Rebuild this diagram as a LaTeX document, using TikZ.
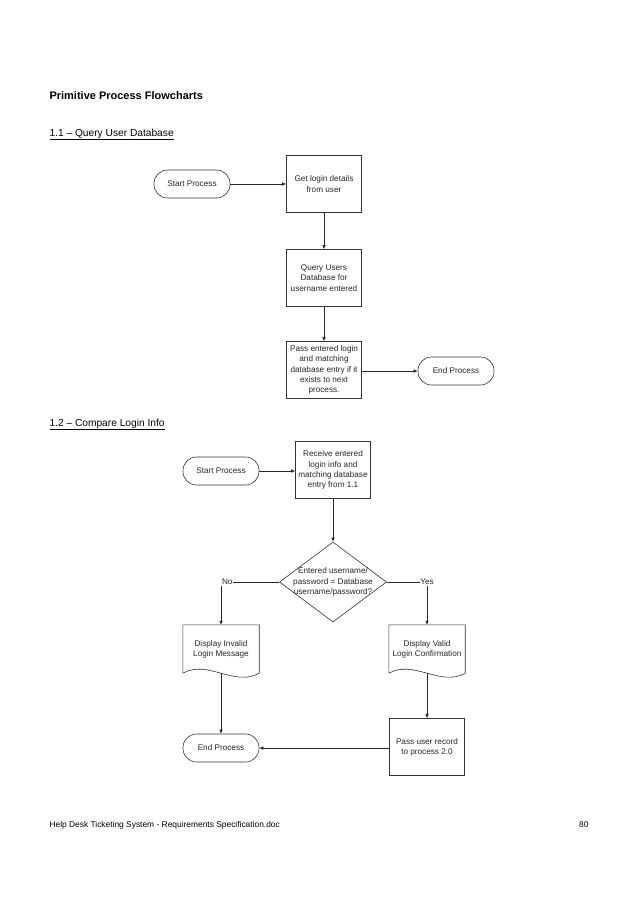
\documentclass[tikz,border=0pt]{standalone}
\usepackage{fontspec}
\setmainfont{Liberation Sans}
\usetikzlibrary{arrows.meta,shapes.geometric}
\begin{document}
\begin{tikzpicture}[x=1pt,y=-1pt,
  every node/.style={font=\fontsize{8.2}{10.2}\selectfont, text=black!85, align=center},
  proc/.style={draw=black!80, line width=0.6pt, minimum width=75pt, minimum height=57pt, inner sep=0pt},
  term/.style={draw=black!80, line width=0.6pt, minimum width=76pt, minimum height=28pt, rounded corners=13.5pt, inner sep=0pt},
  docbox/.style={minimum width=76pt, minimum height=48pt, inner sep=0pt},
  arr/.style={draw=black!85, line width=0.6pt, -{Latex[length=4pt,width=3.6pt]}},
  lbl/.style={fill=white, inner sep=0.8pt}
]
\useasboundingbox[fill=white] (0,0) rectangle (638,903);

% headings
\node[anchor=base west, font=\fontsize{11}{13}\selectfont\bfseries, text=black] (title) at (46,99) {Primitive Process Flowcharts};
\node[anchor=base west, font=\fontsize{10.2}{12}\selectfont, text=black] (h11) at (46,136) {\underline{1.1 -- Query User Database}};
\node[anchor=base west, font=\fontsize{10.2}{12}\selectfont, text=black] (h12) at (46,426) {\underline{1.2 -- Compare Login Info}};

% flowchart 1.1
\node[term] (s1) at (192,184) {Start Process};
\node[proc] (get) at (324,184) {Get login details\\from user};
\node[proc] (query) at (324,278) {Query Users\\Database for\\username entered};
\node[proc] (pass) at (324,370) {Pass entered login\\and matching\\database entry if it\\exists to next\\process.};
\node[term] (e1) at (456,371) {End Process};
\draw[arr] (s1) -- (get);
\draw[arr] (get) -- (query);
\draw[arr] (query) -- (pass);
\draw[arr] (pass.east |- e1) -- (e1);

% flowchart 1.2
\node[term] (s2) at (221,471) {Start Process};
\node[proc] (recv) at (333,470) {Receive entered\\login info and\\matching database\\entry from 1.1};
\node[draw=black!80, line width=0.6pt, diamond, minimum width=107pt, minimum height=80pt, inner sep=0pt] (dia) at (333,582) {};
\node (diatext) at (333,582) {Entered username/\\password = Database\\username/password?};
\node[docbox] (inv) at (221,649) {Display Invalid\\Login Message};
\node[docbox] (val) at (427,649) {Display Valid\\Login Confirmation};
\foreach \d in {inv,val}{
  \draw[black!80, line width=0.6pt] (\d.south west) -- (\d.north west) -- (\d.north east) -- (\d.south east)
    .. controls ([xshift=-25pt,yshift=-14pt]\d.south east) and ([xshift=25pt,yshift=14pt]\d.south west) .. (\d.south west);
}
\node[term] (e2) at (221,748) {End Process};
\node[proc] (urec) at (427,747) {Pass user record\\to process 2.0};

\coordinate (nocorner) at (221,582);
\coordinate (yescorner) at (427,582);
\draw[arr] (s2) -- (recv.west |- s2);
\draw[arr] (recv) -- (dia);
\draw[arr] (dia.west) -- (nocorner) -- (inv.north);
\draw[arr] (dia.east) -- (yescorner) -- (val.north);
\draw[arr] (inv.south) -- (e2);
\draw[arr] (val.south) -- (urec);
\draw[arr] (urec.west |- e2) -- (e2);
\node[lbl, anchor=west] (nolbl) at (221,582) {No};
\node[lbl] (yeslbl) at (427,582) {Yes};

% footer
\node[anchor=base west, font=\fontsize{8.4}{10}\selectfont, text=black] (foot) at (46,827) {Help Desk Ticketing System - Requirements Specification.doc};
\node[anchor=base east, font=\fontsize{8.4}{10}\selectfont, text=black] (page) at (592,827) {80};
\end{tikzpicture}
\end{document}
